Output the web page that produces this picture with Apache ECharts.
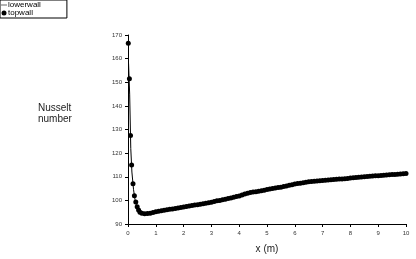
<!DOCTYPE html>
<html>
<head>
<meta charset="utf-8">
<script src="https://cdn.jsdelivr.net/npm/echarts@6/dist/echarts.min.js"></script>
<style>
  html, body { margin: 0; padding: 0; background: #fff; }
  #chart { width: 416px; height: 259px; }
</style>
</head>
<body>
<div id="chart"></div>
<script>
// Nusselt number along the channel walls
const topX = [
  0.01, 0.05, 0.09, 0.13, 0.18, 0.23, 0.28, 0.33, 0.38, 0.43, 0.5,
  0.6, 0.7, 0.8, 0.9, 1.0, 1.1, 1.2, 1.3, 1.4, 1.5, 1.6, 1.7, 1.8, 1.9,
  2.0, 2.1, 2.2, 2.3, 2.4, 2.5, 2.6, 2.7, 2.8, 2.9,
  3.0, 3.1, 3.2, 3.3, 3.4, 3.5, 3.6, 3.7, 3.8, 3.9,
  4.0, 4.1, 4.2, 4.3, 4.4, 4.5, 4.6, 4.7, 4.8, 4.9,
  5.0, 5.1, 5.2, 5.3, 5.4, 5.5, 5.6, 5.7, 5.8, 5.9,
  6.0, 6.1, 6.2, 6.3, 6.4, 6.5, 6.6, 6.7, 6.8, 6.9,
  7.0, 7.1, 7.2, 7.3, 7.4, 7.5, 7.6, 7.7, 7.8, 7.9,
  8.0, 8.1, 8.2, 8.3, 8.4, 8.5, 8.6, 8.7, 8.8, 8.9,
  9.0, 9.1, 9.2, 9.3, 9.4, 9.5, 9.6, 9.7, 9.8, 9.9, 10.0
];
const topwall = [
  166.5, 151.5, 127.5, 115, 107, 102, 99.3, 97.3, 95.9, 95, 94.5,
  94.3, 94.4, 94.6, 94.9, 95.2, 95.4, 95.6, 95.8, 96.0, 96.2, 96.4, 96.6, 96.8, 97.0,
  97.2, 97.4, 97.6, 97.8, 98.0, 98.2, 98.4, 98.6, 98.8, 99.0,
  99.2, 99.5, 99.8, 100.0, 100.3, 100.5, 100.8, 101.0, 101.3, 101.6,
  101.9, 102.3, 102.7, 103.0, 103.3, 103.5, 103.7, 103.9, 104.1, 104.3,
  104.6, 104.8, 105.0, 105.2, 105.4, 105.6, 105.9, 106.1, 106.4, 106.6,
  106.9, 107.1, 107.3, 107.5, 107.7, 107.9, 108.0, 108.1, 108.2, 108.3,
  108.4, 108.5, 108.6, 108.7, 108.8, 108.9, 109.0, 109.1, 109.2, 109.3,
  109.5, 109.6, 109.7, 109.8, 109.9, 110.0, 110.1, 110.2, 110.3, 110.4,
  110.4, 110.5, 110.6, 110.7, 110.8, 110.9, 111.0, 111.1, 111.2, 111.3, 111.4
];
const lowerX = [0.02, 0.06, 0.1, 0.14, 0.2, 0.25, 0.3, 0.4, 0.5, 0.7, 1, 1.5, 2, 2.5, 3, 3.5, 4, 4.5, 5, 5.5, 6, 6.5, 7, 7.5, 8, 8.5, 9, 9.5, 10];
const lowerwall = [158, 145, 122, 112, 104.5, 100.5, 98, 95.5, 94.6, 94.4, 95.2, 96.2, 97.2, 98.2, 99.2, 100.5, 101.9, 103.5, 104.6, 105.6, 106.9, 107.9, 108.4, 108.9, 109.5, 110.0, 110.4, 110.9, 111.4];
const xTicks = [0, 1, 2, 3, 4, 5, 6, 7, 8, 9, 10];
const yTicks = [90, 100, 110, 120, 130, 140, 150, 160, 170];

const chart = echarts.init(document.getElementById('chart'));
const font = 'Liberation Sans, Arial, sans-serif';

chart.setOption({
  animation: false,
  textStyle: { fontFamily: font },
  grid: { left: 128, right: 10, top: 35, bottom: 35 },
  legend: {
    left: 0,
    top: 0,
    orient: 'vertical',
    itemGap: 0,
    itemWidth: 6,
    itemHeight: 5,
    padding: [1, 26, 1, 1],
    borderColor: '#000',
    borderWidth: 1,
    borderRadius: 0,
    textStyle: { fontSize: 8, color: '#000', padding: [0, 0, 0, -4] },
    data: [
      { name: 'lowerwall', icon: 'path://M0,5L10,5L10,6L0,6Z' },
      { name: 'topwall', icon: 'circle', itemStyle: { color: '#000' } }
    ]
  },
  graphic: [{
    type: 'text',
    left: 38,
    top: 103,
    style: {
      text: 'Nusselt\nnumber',
      font: '10px ' + font,
      fill: '#222',
      lineHeight: 11
    }
  }],
  xAxis: {
    type: 'value',
    min: xTicks[0],
    max: xTicks[xTicks.length - 1],
    interval: 1,
    name: 'x (m)',
    nameLocation: 'middle',
    nameGap: 20,
    nameTextStyle: { fontSize: 10, color: '#222' },
    axisLine: { lineStyle: { color: '#000', width: 1 } },
    axisTick: { length: 3, lineStyle: { color: '#000' } },
    axisLabel: { fontSize: 6, color: '#333', margin: 6 },
    splitLine: { show: false }
  },
  yAxis: {
    type: 'value',
    min: yTicks[0],
    max: yTicks[yTicks.length - 1],
    interval: 10,
    axisLine: { show: true, lineStyle: { color: '#000', width: 1 } },
    axisTick: { show: true, length: 3, lineStyle: { color: '#000' } },
    axisLabel: { fontSize: 6, color: '#333', margin: 6 },
    splitLine: { show: false }
  },
  series: [
    {
      name: 'lowerwall',
      type: 'line',
      data: lowerX.map((x, i) => [x, lowerwall[i]]),
      showSymbol: false,
      lineStyle: { color: '#000', width: 1 },
      itemStyle: { color: '#000' }
    },
    {
      name: 'topwall',
      type: 'line',
      data: topX.map((x, i) => [x, topwall[i]]),
      symbol: 'circle',
      symbolSize: 5,
      showAllSymbol: true,
      lineStyle: { width: 0 },
      itemStyle: { color: '#000' }
    }
  ]
});
</script>
</body>
</html>
